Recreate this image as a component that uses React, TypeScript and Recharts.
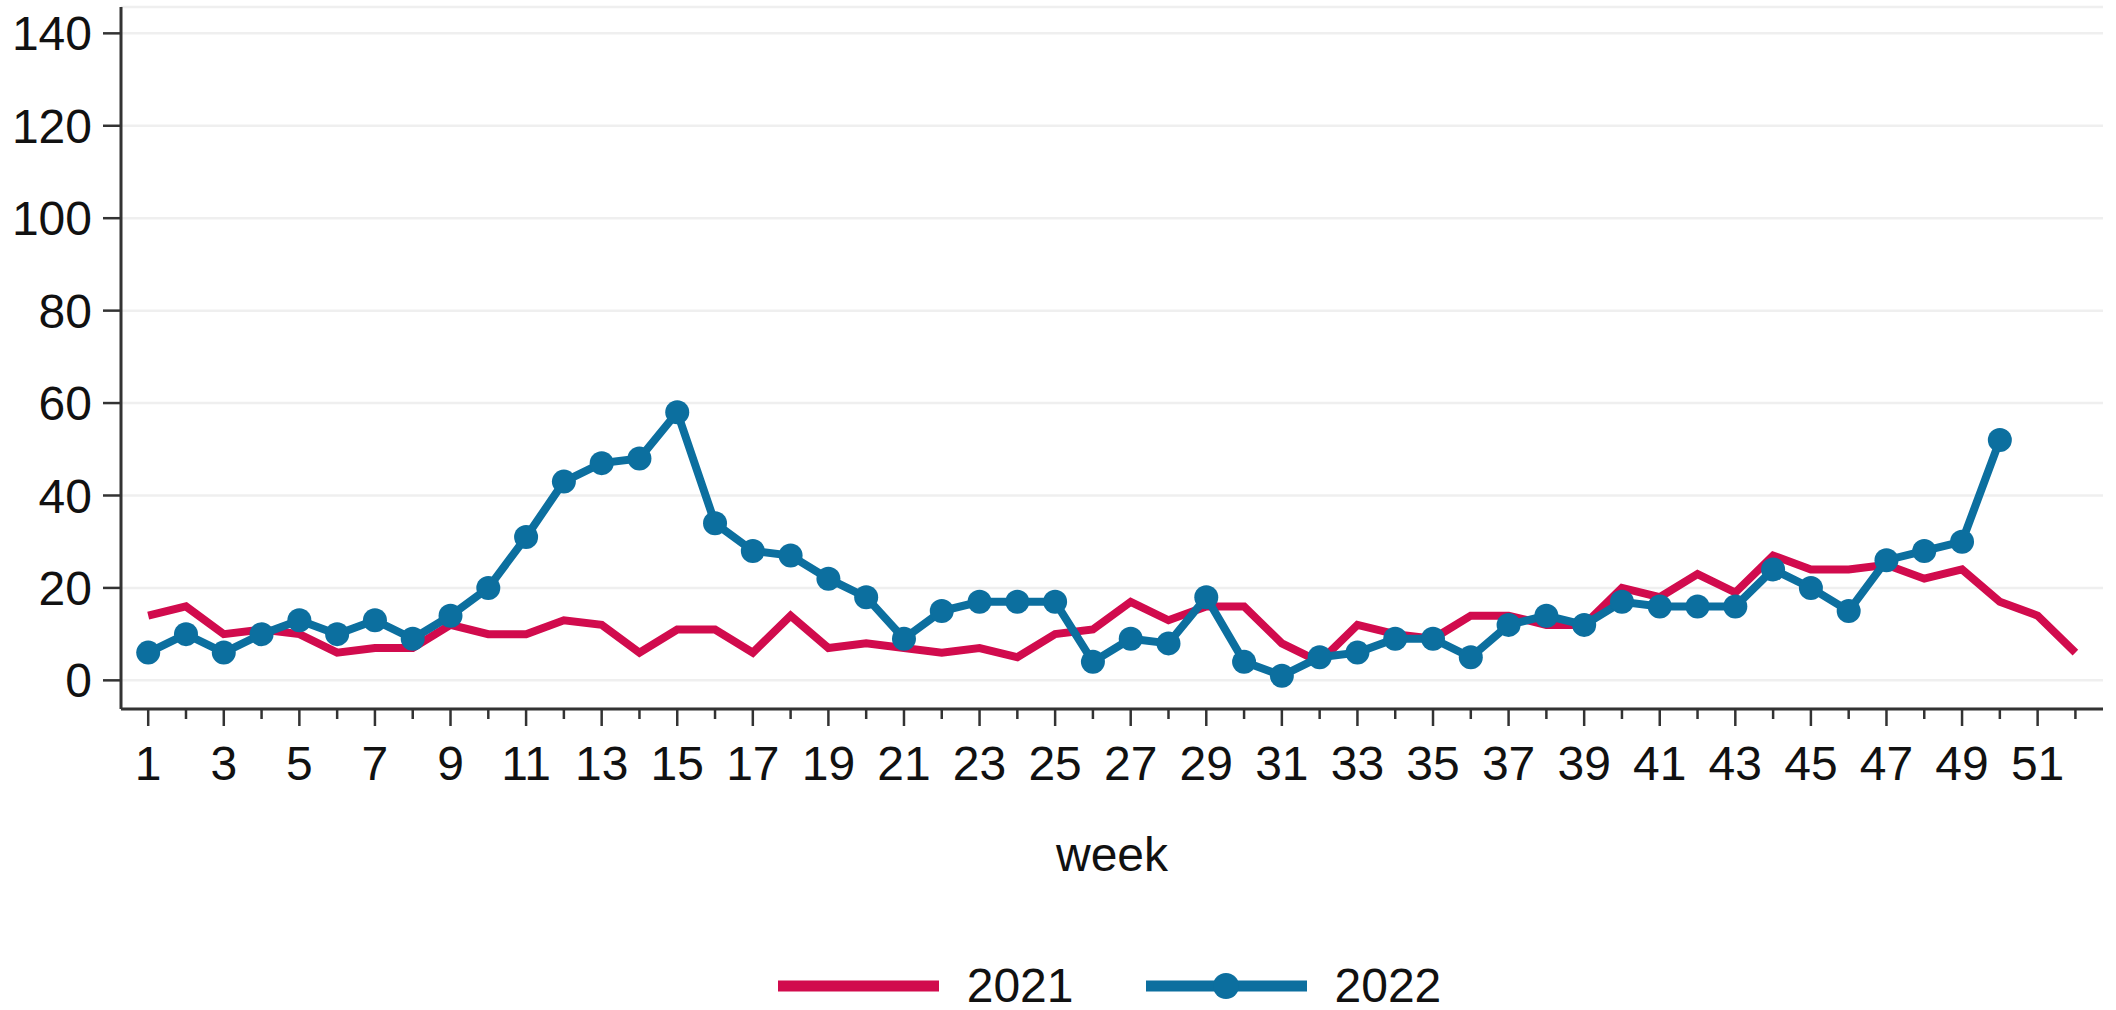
import { CartesianGrid, Legend, Line, LineChart, XAxis, YAxis } from 'recharts'

const weeks = Array.from({ length: 52 }, (_, i) => i + 1)

// weekly counts
const counts2021 = [
  14, 16, 10, 11, 10, 6, 7, 7, 12, 10, 10, 13, 12, 6, 11, 11, 6, 14, 7, 8, 7, 6, 7, 5, 10, 11,
  17, 13, 16, 16, 8, 4, 12, 10, 9, 14, 14, 12, 12, 20, 18, 23, 19, 27, 24, 24, 25, 22, 24, 17, 14, 6,
]
const counts2022 = [
  6, 10, 6, 10, 13, 10, 13, 9, 14, 20, 31, 43, 47, 48, 58, 34, 28, 27, 22, 18, 9, 15, 17, 17, 17, 4,
  9, 8, 18, 4, 1, 5, 6, 9, 9, 5, 12, 14, 12, 17, 16, 16, 16, 24, 20, 15, 26, 28, 30, 52, null, null,
]

const yTicks = [0, 20, 40, 60, 80, 100, 120, 140]

const RED = '#d10b4d'
const BLUE = '#0c6f9f'
const FONT = '"Liberation Sans", Arial, sans-serif'

const chartData = weeks.map((w, i) => ({
  week: w,
  y2021: counts2021[i],
  y2022: counts2022[i],
}))

function WeekTick(props: any) {
  const { x, y, payload } = props
  const labelled = payload.value % 2 === 1
  return (
    <g>
      <line x1={x} x2={x} y1={y} y2={y + (labelled ? 17 : 10)} stroke="#333" strokeWidth={2.5} />
      {labelled && (
        <text x={x} y={y + 71} textAnchor="middle" fontSize={48} fill="#111" fontFamily={FONT}>
          {payload.value}
        </text>
      )}
    </g>
  )
}

function LegendContent() {
  return (
    <div
      style={{
        width: 2116,
        height: 48,
        display: 'flex',
        alignItems: 'center',
        justifyContent: 'center',
        paddingLeft: 103,
        boxSizing: 'border-box',
        fontFamily: FONT,
        fontSize: 48,
        lineHeight: '48px',
        color: '#111',
      }}
    >
      <svg width={161} height={30}>
        <line x1={0} x2={161} y1={15} y2={15} stroke={RED} strokeWidth={11} />
      </svg>
      <span style={{ marginLeft: 28 }}>2021</span>
      <svg width={161} height={30} style={{ marginLeft: 72 }}>
        <line x1={0} x2={161} y1={15} y2={15} stroke={BLUE} strokeWidth={11} />
        <circle cx={80} cy={15} r={13} fill={BLUE} />
      </svg>
      <span style={{ marginLeft: 28 }}>2022</span>
    </div>
  )
}

export default function App() {
  return (
    <div style={{ position: 'absolute', left: 0, top: 0, background: '#fff' }}>
      <LineChart
        width={2116}
        height={1010}
        data={chartData}
        margin={{ top: 7, right: 13, left: 0, bottom: 0 }}
      >
        <CartesianGrid vertical={false} stroke="#efefef" strokeWidth={2.5} />
        <XAxis
          dataKey="week"
          type="number"
          domain={[0.28, 52.73]}
          ticks={weeks}
          interval={0}
          height={253}
          tickSize={0}
          tickMargin={0}
          tickLine={false}
          tick={<WeekTick />}
          axisLine={{ stroke: '#333', strokeWidth: 3 }}
          label={{
            value: 'week',
            position: 'insideBottom',
            offset: 91,
            fontSize: 48,
            fill: '#111',
            fontFamily: FONT,
          }}
        />
        <YAxis
          width={121}
          type="number"
          domain={[-6.2, 145.7]}
          ticks={yTicks}
          interval={0}
          tickSize={18}
          tickMargin={11}
          tick={{ fontSize: 48, fill: '#111', fontFamily: FONT }}
          tickLine={{ stroke: '#333', strokeWidth: 2.5 }}
          axisLine={{ stroke: '#333', strokeWidth: 3 }}
        />
        <Legend
          verticalAlign="bottom"
          width={2116}
          wrapperStyle={{ left: 0, bottom: 0 }}
          content={<LegendContent />}
        />
        <Line
          type="linear"
          dataKey="y2021"
          name="2021"
          stroke={RED}
          strokeWidth={8}
          dot={false}
          isAnimationActive={false}
        />
        <Line
          type="linear"
          dataKey="y2022"
          name="2022"
          stroke={BLUE}
          strokeWidth={8}
          dot={{ r: 12, fill: BLUE, stroke: 'none' }}
          isAnimationActive={false}
        />
      </LineChart>
    </div>
  )
}
